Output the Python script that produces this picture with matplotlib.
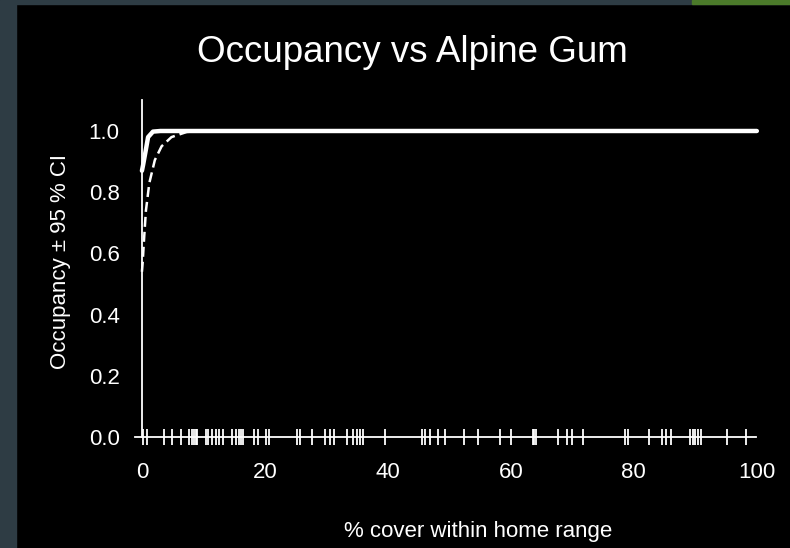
import matplotlib
matplotlib.use("Agg")
import matplotlib.pyplot as plt
from matplotlib.patches import Rectangle

# fitted occupancy curve
fit_x = [0, 0.2, 0.65, 1.0, 1.8, 3, 100]
fit_y = [0.87, 0.89, 0.94, 0.98, 0.998, 1.0, 1.0]

# lower 95 % CI (dashed)
lower_x = [0, 0.12, 0.37, 0.65, 1.2, 2.1, 3.2, 4.8, 7.3, 10, 100]
lower_y = [0.54, 0.57, 0.655, 0.74, 0.83, 0.905, 0.95, 0.98, 0.997, 1.0, 1.0]

# rug of observed % cover values
rug = [0.2, 0.8, 3.6, 4.9, 6.3, 7.7, 8.1, 8.5, 8.8, 9.0, 10.4, 10.8, 11.4,
       12.0, 12.5, 13.2, 14.7, 15.3, 15.8, 16.1, 16.4, 18.3, 18.8, 20.2, 20.6,
       25.2, 25.7, 27.6, 29.8, 30.6, 31.2, 33.3, 34.4, 35.0, 35.5, 36.0, 39.5,
       45.5, 46.0, 46.8, 48.2, 49.3, 52.4, 54.7, 58.2, 60.1, 63.6, 63.8, 64.1,
       67.7, 69.2, 69.9, 71.8, 78.5, 79.1, 82.5, 84.5, 85.3, 86.1, 89.1, 89.6,
       90.0, 90.4, 91.0, 95.1, 98.3]

yticks = [0.0, 0.2, 0.4, 0.6, 0.8, 1.0]
xticks = [0, 20, 40, 60, 80, 100]

plt.rcParams["font.family"] = ["Liberation Sans", "DejaVu Sans"]

fig = plt.figure(figsize=(7.9, 5.48), dpi=100, facecolor="black")

# slide border strips
slate = "#2e3c44"
fig.patches.append(Rectangle((0, 0), 16 / 790, 1, transform=fig.transFigure,
                             color=slate, zorder=0))
fig.patches.append(Rectangle((0, 1 - 4 / 548), 1, 4 / 548, transform=fig.transFigure,
                             color=slate, zorder=0))
fig.patches.append(Rectangle((692 / 790, 1 - 4 / 548), 98 / 790, 4 / 548,
                             transform=fig.transFigure, color="#4b7a2a", zorder=1))

ax = fig.add_axes([0.1711, 0.2026, 0.7947, 0.6142])
ax.set_facecolor("black")

ax.plot(lower_x, lower_y, color="white", lw=1.8, ls=(0, (4, 2)))
ax.plot(fit_x, fit_y, color="white", lw=3.2, solid_capstyle="round")
ax.plot(rug, [0] * len(rug), "|", color="white", markersize=12,
        markeredgewidth=1.3, clip_on=False)

ax.set_xlim(-1.1, 101)
ax.set_ylim(0, 1.1)
ax.set_xticks(xticks)
ax.set_yticks(yticks)
ax.set_yticklabels([f"{t:.1f}" for t in yticks])

for s in ["top", "right"]:
    ax.spines[s].set_visible(False)
ax.spines["left"].set_position(("data", 0))
ax.spines["bottom"].set_bounds(-1.1, 99.8)
for s in ["left", "bottom"]:
    ax.spines[s].set_color("white")
    ax.spines[s].set_linewidth(1.3)

ax.tick_params(axis="both", length=0, colors="white", labelsize=16)
ax.tick_params(axis="y", pad=16)
ax.tick_params(axis="x", pad=18)

ax.set_ylabel("Occupancy ± 95 % CI", color="white", fontsize=16)
ax.yaxis.set_label_coords(-0.102, 0.52)
ax.set_xlabel("% cover within home range", color="white", fontsize=16)
ax.xaxis.set_label_coords(0.546, -0.25)

fig.text(412 / 790, 1 - 52 / 548, "Occupancy vs Alpine Gum", color="white",
         fontsize=26.5, ha="center", va="center")

fig.savefig("out.png", dpi=100, facecolor=fig.get_facecolor())
